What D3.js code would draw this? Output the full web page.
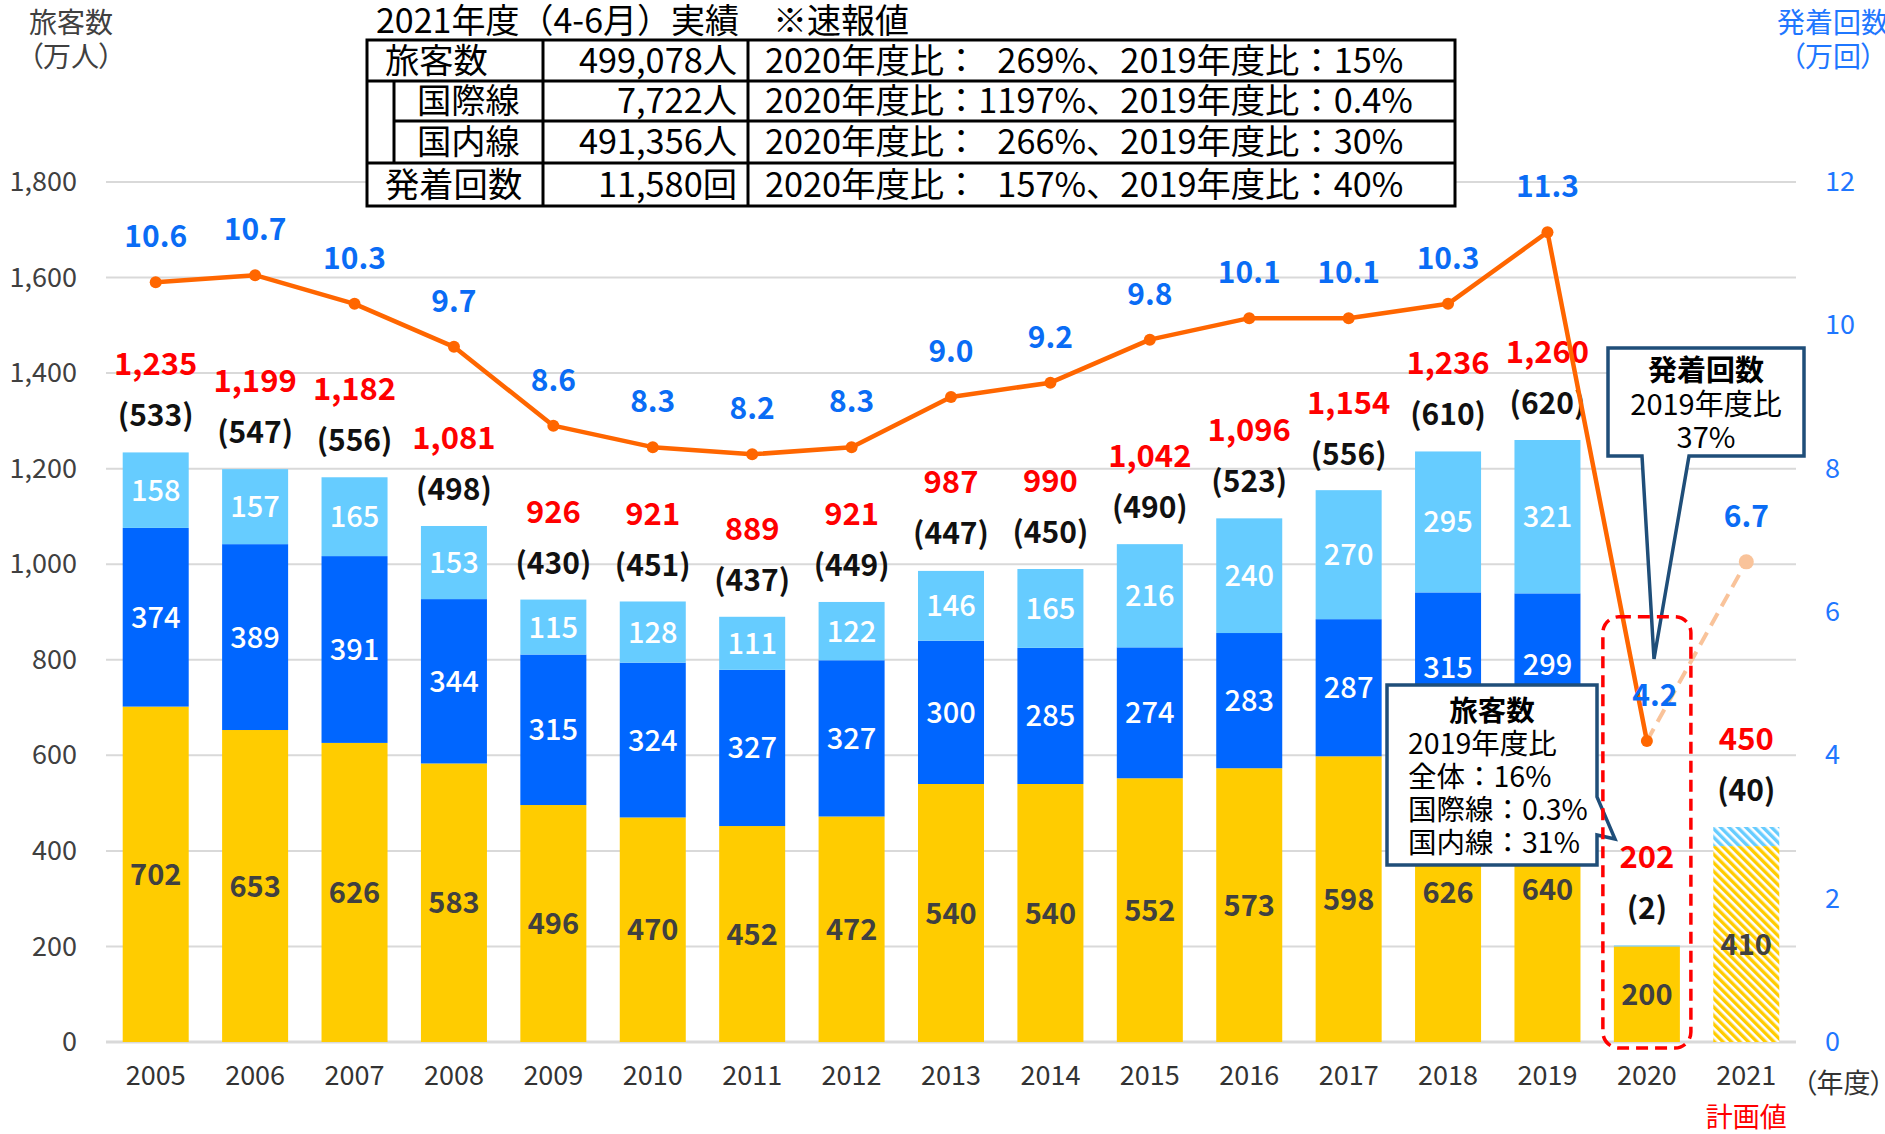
<!DOCTYPE html>
<html><head><meta charset="utf-8">
<script src="https://cdn.jsdelivr.net/npm/d3@7"></script>
<style>
body{margin:0;background:#fff;}
svg text{font-family:"Noto Sans CJK JP","Noto Sans",sans-serif;}
.palt{font-feature-settings:"palt" 1;}
</style></head><body>
<svg id="chart" width="1885" height="1134"></svg>
<script>
// ---------- data ----------
const years = ["2005","2006","2007","2008","2009","2010","2011","2012","2013","2014","2015","2016","2017","2018","2019","2020","2021"];
const domestic  = [702,653,626,583,496,470,452,472,540,540,552,573,598,626,640,200,410];
const intlLower = [374,389,391,344,315,324,327,327,300,285,274,283,287,315,299,0,0];
const intlUpper = [158,157,165,153,115,128,111,122,146,165,216,240,270,295,321,2,40];
const totalLabels = [1235,1199,1182,1081,926,921,889,921,987,990,1042,1096,1154,1236,1260,202,450];
const intlLabels  = [533,547,556,498,430,451,437,449,447,450,490,523,556,610,620,2,40];
const flights = [10.6,10.7,10.3,9.7,8.6,8.3,8.2,8.3,9.0,9.2,9.8,10.1,10.1,10.3,11.3,4.2,6.7];
const leftTicks = [0,200,400,600,800,1000,1200,1400,1600,1800];
const rightTicks = [0,2,4,6,8,10,12];
const planYear = "2021";
const highlightYear = "2020";
const leftTitle = ["旅客数","（万人）"];
const rightTitle = ["発着回数","（万回）"];
const xUnit = "（年度）";
const planText = "計画値";
const tableTitle = "2021年度（4-6月）実績　※速報値";
const tableRowLabels = ["旅客数","国際線","国内線","発着回数"];
const tableRowValues = ["499,078人","7,722人","491,356人","11,580回"];
const tableVs2020 = ["269%","1197%","266%","157%"];
const tableVs2019 = ["15%","0.4%","30%","40%"];
const callout1Lines = ["発着回数","2019年度比","37%"];
const callout2Lines = ["旅客数","2019年度比","全体：16%","国際線：0.3%","国内線：31%"];

// ---------- setup ----------
const svg = d3.select("#chart");
const X0 = 106, X1 = 1796, Y0 = 1042, Y1 = 182;
const x = d3.scaleBand().domain(years).range([X0, X1]).paddingInner(0.336).paddingOuter(0.168);
const yL = d3.scaleLinear().domain([0,1800]).range([Y0, Y1]);
const yR = d3.scaleLinear().domain([0,12]).range([Y0, Y1]);

const C = {yellow:"#FFCC00", dark:"#0066FF", light:"#66CCFF", orange:"#FF6600", peach:"#F9C39A",
           red:"#FF0000", blue:"#0A6CF5", axisBlue:"#1F77FF", gray:"#404040", navy:"#1F4E79"};

// patterns
const defs = svg.append("defs");
function hatch(id, color){
  const p = defs.append("pattern").attr("id", id).attr("patternUnits","userSpaceOnUse")
    .attr("width",6).attr("height",6).attr("patternTransform","rotate(-45)");
  p.append("rect").attr("width",6).attr("height",6).attr("fill","#fff");
  p.append("rect").attr("width",3.4).attr("height",6).attr("fill",color);
}
hatch("hYellow", C.yellow); hatch("hLight", C.light);

// gridlines
svg.append("g").selectAll("line").data(leftTicks).join("line")
  .attr("x1", X0).attr("x2", X1).attr("y1", d=>yL(d)).attr("y2", d=>yL(d))
  .attr("stroke","#d9d9d9").attr("stroke-width", d=> d===0 ? 3 : 2);

// axes
const gl = svg.append("g").attr("transform",`translate(${X0},0)`)
  .call(d3.axisLeft(yL).tickValues(leftTicks).tickSize(0).tickPadding(29).tickFormat(d3.format(",")));
gl.select(".domain").remove();
gl.selectAll("text").attr("font-size",27).attr("fill",C.gray).attr("font-family",null);

const gr = svg.append("g").attr("transform",`translate(${X1},0)`)
  .call(d3.axisRight(yR).tickValues(rightTicks).tickSize(0).tickPadding(29));
gr.select(".domain").remove();
gr.selectAll("text").attr("font-size",27).attr("fill",C.axisBlue).attr("font-family",null);

const gb = svg.append("g").attr("transform",`translate(0,${Y0})`)
  .call(d3.axisBottom(x).tickSize(0).tickPadding(24));
gb.select(".domain").remove();
gb.selectAll("text").attr("font-size",27).attr("fill","#333").attr("font-family",null);

// titles
svg.append("g").selectAll("text").data(leftTitle).join("text").attr("class","palt")
  .attr("x",29).attr("y",(d,i)=>33+i*34).attr("font-size",28).attr("fill",C.gray).text(d=>d);
svg.append("g").selectAll("text").data(rightTitle).join("text").attr("class","palt")
  .attr("x",(d,i)=> i===0 ? 1777 : 1791).attr("y",(d,i)=>33+i*34).attr("font-size",28).attr("fill",C.axisBlue).text(d=>d);
svg.append("text").attr("class","palt").attr("x",1803).attr("y",1093).attr("font-size",27).attr("fill","#333").text(xUnit);
svg.append("text").attr("x",x(planYear)+x.bandwidth()/2).attr("y",1127).attr("text-anchor","middle")
  .attr("font-size",27).attr("fill",C.red).text(planText);

// stacked bars
const rows = years.map((y,i)=>({year:y, domestic:domestic[i], intlLower:intlLower[i], intlUpper:intlUpper[i]}));
const keys = ["domestic","intlLower","intlUpper"];
const stack = d3.stack().keys(keys)(rows);
const solid = {domestic:C.yellow, intlLower:C.dark, intlUpper:C.light};
const hatched = {domestic:"url(#hYellow)", intlLower:C.dark, intlUpper:"url(#hLight)"};
const gBars = svg.append("g");
stack.forEach(s=>{
  gBars.append("g").selectAll("rect").data(s).join("rect")
    .attr("x", d=>x(d.data.year)).attr("width", x.bandwidth())
    .attr("y", d=>yL(d[1])).attr("height", d=>yL(d[0])-yL(d[1]))
    .attr("fill", d=> d.data.year===planYear ? hatched[s.key] : solid[s.key]);
});
// segment labels
stack.forEach(s=>{
  svg.append("g").selectAll("text").data(s.filter(d=>d[1]-d[0]>=100)).join("text")
    .attr("x", d=>x(d.data.year)+x.bandwidth()/2)
    .attr("y", d=>yL((d[0]+d[1])/2)+10.5)
    .attr("text-anchor","middle").attr("font-size",29)
    .attr("font-weight", s.key==="domestic" ? 700 : 500)
    .attr("fill", s.key==="domestic" ? C.gray : "#fff")
    .text(d=>d[1]-d[0]);
});
// totals and intl labels
svg.append("g").selectAll("text").data(years).join("text")
  .attr("x", d=>x(d)+x.bandwidth()/2).attr("y",(d,i)=>yL(totalLabels[i])-88+11)
  .attr("text-anchor","middle").attr("font-size",31).attr("font-weight",700).attr("fill",C.red)
  .text((d,i)=>d3.format(",")(totalLabels[i]));
svg.append("g").selectAll("text").data(years).join("text")
  .attr("x", d=>x(d)+x.bandwidth()/2).attr("y",(d,i)=>yL(totalLabels[i])-37+11)
  .attr("text-anchor","middle").attr("font-size",30).attr("font-weight",700).attr("fill","#111")
  .text((d,i)=>"("+intlLabels[i]+")");

// callouts (drawn before line so the line stays on top)
const cBox1 = "M1608,348 H1804 V456 H1689 L1654,659 L1642,456 H1608 Z";
svg.append("path").attr("d",cBox1).attr("fill","#fff").attr("stroke",C.navy).attr("stroke-width",3.5).attr("stroke-linejoin","miter");
svg.append("g").selectAll("text").data(callout1Lines).join("text")
  .attr("x",1706).attr("y",(d,i)=>381+i*33.5).attr("text-anchor","middle").attr("font-size",29)
  .attr("font-weight",(d,i)=>i===0?700:400).attr("fill","#000").text(d=>d);

const cBox2 = "M1387,685 H1597 V797 L1615,839 L1597,835 V865 H1387 Z";
svg.append("path").attr("d",cBox2).attr("fill","#fff").attr("stroke",C.navy).attr("stroke-width",3.5);
svg.append("g").selectAll("text").data(callout2Lines).join("text")
  .attr("x",(d,i)=>i===0?1492:1408).attr("y",(d,i)=>721+i*33)
  .attr("text-anchor",(d,i)=>i===0?"middle":"start").attr("font-size",28.5)
  .attr("font-weight",(d,i)=>i===0?700:400).attr("fill","#000").text(d=>d);

// flights line
const pts = years.map((y,i)=>({year:y, v:flights[i]}));
const iHi = years.indexOf(highlightYear);
const line = d3.line().x(d=>x(d.year)+x.bandwidth()/2).y(d=>yR(d.v));
svg.append("path").datum(pts.slice(iHi, iHi+2)).attr("d",line).attr("fill","none")
  .attr("stroke",C.peach).attr("stroke-width",4).attr("stroke-dasharray","14,8");
svg.append("path").datum(pts.slice(0, iHi+1)).attr("d",line).attr("fill","none")
  .attr("stroke",C.orange).attr("stroke-width",4.5).attr("stroke-linejoin","round");
svg.append("g").selectAll("circle").data(pts).join("circle")
  .attr("cx",d=>x(d.year)+x.bandwidth()/2).attr("cy",d=>yR(d.v))
  .attr("r",d=>d.year===planYear?7.5:6).attr("fill",d=>d.year===planYear?C.peach:C.orange);
svg.append("g").selectAll("text").data(pts).join("text")
  .attr("x",d=>x(d.year)+x.bandwidth()/2 + (d.year===highlightYear?8:0)).attr("y",d=>yR(d.v)-46+11)
  .attr("text-anchor","middle").attr("font-size",30).attr("font-weight",700).attr("fill",C.blue)
  .text(d=>d3.format(".1f")(d.v));

// highlight dashed box
const hx = x(highlightYear);
svg.append("rect").attr("x",hx-11).attr("width",x.bandwidth()+22)
  .attr("y",yL(890)).attr("height",Y0+6-yL(890)).attr("rx",16).attr("ry",16)
  .attr("fill","none").attr("stroke",C.red).attr("stroke-width",3.5).attr("stroke-dasharray","12,7");

// ---------- table ----------
const T = {l:367, r:1455, rowsY:[40,81,121,163,206], c1:543, c2:748, indent:394};
const gt = svg.append("g");
gt.append("text").attr("x",376).attr("y",33).attr("font-size",34).attr("fill","#000").text(tableTitle);
gt.append("rect").attr("x",T.l).attr("y",T.rowsY[0]).attr("width",T.r-T.l).attr("height",T.rowsY[4]-T.rowsY[0])
  .attr("fill","#fff").attr("stroke","#000").attr("stroke-width",3);
const tl = (x1,y1,x2,y2)=>gt.append("line").attr("x1",x1).attr("y1",y1).attr("x2",x2).attr("y2",y2).attr("stroke","#000").attr("stroke-width",3);
tl(T.l,T.rowsY[1],T.r,T.rowsY[1]);
tl(T.indent,T.rowsY[2],T.r,T.rowsY[2]);
tl(T.l,T.rowsY[3],T.r,T.rowsY[3]);
tl(T.c1,T.rowsY[0],T.c1,T.rowsY[4]);
tl(T.c2,T.rowsY[0],T.c2,T.rowsY[4]);
tl(T.indent,T.rowsY[1],T.indent,T.rowsY[3]);
const fs = 34.3;
const rowBase = i => (T.rowsY[i]+T.rowsY[i+1])/2 + 0.36*fs;
tableRowLabels.forEach((t,i)=>{
  gt.append("text").attr("x",(i===1||i===2)?417:385).attr("y",rowBase(i)).attr("font-size",fs).text(t);
  gt.append("text").attr("x",737).attr("y",rowBase(i)).attr("font-size",fs).attr("text-anchor","end").text(tableRowValues[i]);
});
// measure for alignment of percentages
const probeA = gt.append("text").attr("font-size",fs).text("2020年度比：");
const wA = probeA.node().getComputedTextLength(); probeA.remove();
const probeB = gt.append("text").attr("font-size",fs).text(tableVs2020.reduce((a,b)=>a.length>=b.length?a:b));
const wB = probeB.node().getComputedTextLength(); probeB.remove();
const cx0 = 765, pctEnd = cx0 + wA + wB;
tableRowLabels.forEach((t,i)=>{
  gt.append("text").attr("x",cx0).attr("y",rowBase(i)).attr("font-size",fs).text("2020年度比：");
  gt.append("text").attr("x",pctEnd).attr("y",rowBase(i)).attr("font-size",fs).attr("text-anchor","end").text(tableVs2020[i]);
  gt.append("text").attr("x",pctEnd).attr("y",rowBase(i)).attr("font-size",fs).text("、2019年度比：" + tableVs2019[i]);
});
</script></body></html>
